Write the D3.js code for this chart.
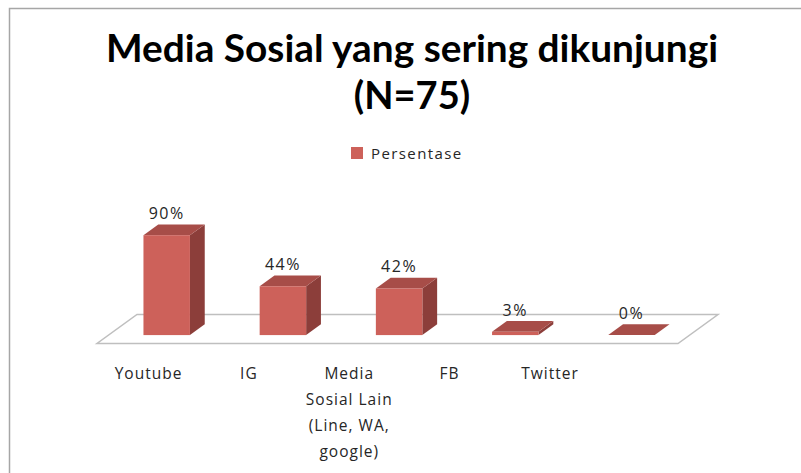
<!DOCTYPE html>
<html lang="id">
<head>
<meta charset="utf-8">
<title>Media Sosial yang sering dikunjungi</title>
<script src="https://d3js.org/d3.v7.min.js"></script>
<style>
	body { margin: 0; background: #fff; }
	svg text { font-family: "Open Sans", "DejaVu Sans", sans-serif; fill: #262626; }
</style>
</head>
<body>
<svg id="chart" width="801" height="473"></svg>
<script>
// data
var categories = ["Youtube", "IG", "Media Sosial Lain (Line, WA, google)", "FB", "Twitter"];
var persentase = [90, 44, 42, 3, 0];
var seriesName = "Persentase";
var titleLines = ["Media Sosial yang sering dikunjungi", "(N=75)"];

var svg = d3.select("#chart"),
    width = +svg.attr("width");

var colFront = "#CD615A", colSide = "#8C3E3A", colTop = "#A74D48";

// chart border (runs off the right and bottom of the picture)
svg.append("rect")
	.attr("x", 9.5).attr("y", 8.5)
	.attr("width", 900).attr("height", 600)
	.attr("fill", "#fff").attr("stroke", "#A6A6A6").attr("stroke-width", 1.5);

// title
svg.selectAll("text.title")
	.data(titleLines)
	.enter().append("text")
	.attr("class", "title")
	.attr("x", 412)
	.attr("y", function(d, i) { return 62 + i * 47; })
	.attr("text-anchor", "middle")
	.style("font-family", "Lato, 'Open Sans', sans-serif")
	.style("font-weight", "bold")
	.style("font-size", "38px")
	.style("fill", "#000")
	.text(function(d) { return d; })
	.each(function(d, i) { if (i == 0) d3.select(this).attr("textLength", 612).attr("lengthAdjust", "spacingAndGlyphs"); });

// legend
var legend = svg.append("g").attr("transform", "translate(351,147)");
legend.append("rect").attr("width", 12).attr("height", 12).attr("fill", colFront);
legend.append("text").attr("x", 20).attr("y", 12)
	.style("font-size", "15px").style("letter-spacing", "1.4px")
	.text(seriesName);

// floor geometry: front edge along x, depth vector going back
var floorY = 343.5, depth = [40, -29];
var x = d3.scaleBand()
	.domain(categories)
	.range([97, 678])
	.paddingInner(0.6)
	.paddingOuter(0.3);
var y = d3.scaleLinear().domain([0, 100]).range([0, 111]);

var barOff = [depth[0] * 0.29, depth[1] * 0.29],
    barDepth = [depth[0] * 0.37, depth[1] * 0.37],
    baseY = floorY + barOff[1];

function pts(a) { return a.map(function(p) { return p.join(","); }).join(" "); }

svg.append("polygon")
	.attr("points", pts([
		[x.range()[0], floorY], [x.range()[1], floorY],
		[x.range()[1] + depth[0], floorY + depth[1]], [x.range()[0] + depth[0], floorY + depth[1]]
	]))
	.attr("fill", "#fff").attr("stroke", "#BFBFBF").attr("stroke-width", 1.5);

var bars = svg.selectAll("g.bar")
	.data(categories.map(function(c, i) { return {cat: c, val: persentase[i]}; }))
	.enter().append("g").attr("class", "bar");

bars.each(function(d) {
	var g = d3.select(this),
	    x0 = x(d.cat) + barOff[0], x1 = x0 + x.bandwidth(),
	    yT = baseY - y(d.val), dx = barDepth[0], dy = barDepth[1];
	// side face
	g.append("polygon").attr("fill", colSide)
		.attr("points", pts([[x1, baseY], [x1 + dx, baseY + dy], [x1 + dx, yT + dy], [x1, yT]]));
	// top face
	g.append("polygon").attr("fill", colTop)
		.attr("points", pts([[x0, yT], [x1, yT], [x1 + dx, yT + dy], [x0 + dx, yT + dy]]));
	// front face
	if (d.val > 0) g.append("rect").attr("fill", colFront)
		.attr("x", x0).attr("y", yT).attr("width", x.bandwidth()).attr("height", y(d.val));
	// value label
	g.append("text")
		.attr("x", x0 + x.bandwidth() / 2)
		.attr("y", yT + dy - 5.5)
		.attr("text-anchor", "middle")
		.style("font-size", "16px").style("letter-spacing", "1.5px")
		.text(d.val + "%");
});

// category labels (Excel places them on a tighter spacing than the bars)
var xLab = d3.scalePoint().domain(categories).range([148.5, 550]);

svg.selectAll("text.cat")
	.data(categories)
	.enter().append("text")
	.attr("class", "cat")
	.attr("y", 379)
	.attr("text-anchor", "middle")
	.style("font-size", "15.5px").style("letter-spacing", "1px")
	.each(function(d) {
		var t = d3.select(this), words = d.split(" "), line = [], n = 0,
		    span = t.append("tspan").attr("x", xLab(d)).attr("dy", 0);
		words.forEach(function(w) {
			line.push(w);
			span.text(line.join(" "));
			if (span.node().getComputedTextLength() > 92 && line.length > 1) {
				line.pop();
				span.text(line.join(" "));
				line = [w];
				n++;
				span = t.append("tspan").attr("x", xLab(d)).attr("dy", 26).text(w);
			}
		});
	});
</script>
</body>
</html>
